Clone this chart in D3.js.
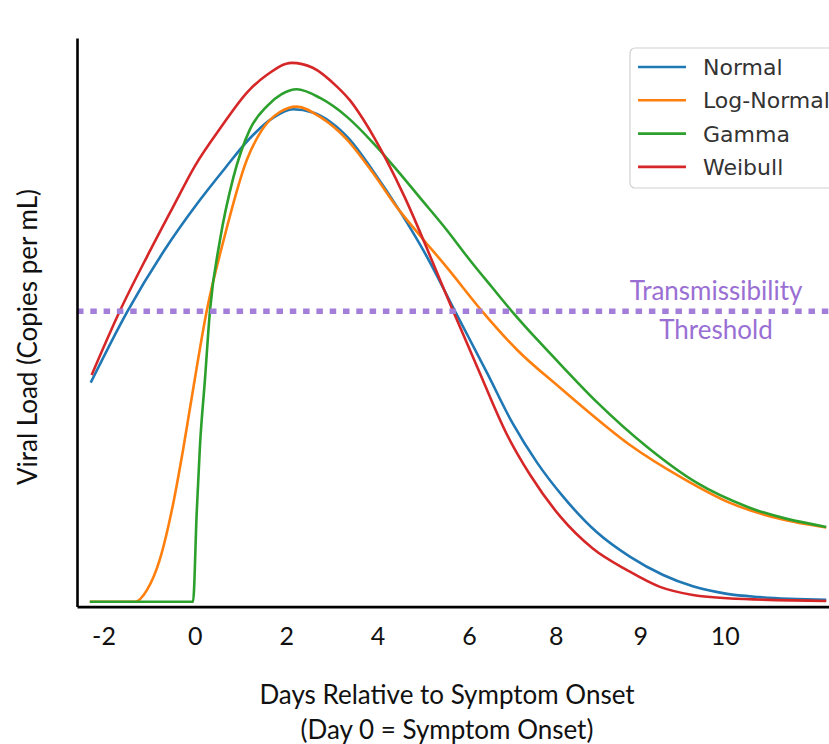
<!DOCTYPE html>
<html>
<head>
<meta charset="utf-8">
<script src="https://cdn.jsdelivr.net/npm/d3@7"></script>
<style>
  body { margin: 0; background: #fff; }
  svg { display: block; }
</style>
</head>
<body>
<svg width="829" height="744"></svg>
<script>
// Data (days relative to onset, relative viral load 0-100)

const seriesNames = ['Normal', 'Log-Normal', 'Gamma', 'Weibull']
const seriesColors = ['#1f77b4', '#ff7f0e', '#2ca02c', '#d62728']

const normalPts = [
  [-2.28, 40.6], [-1.47, 53.9], [-0.66, 65.2], [0.11, 74.4], [0.66, 80.3],
  [1.20, 85.8], [1.71, 89.6], [2.15, 91.2], [2.58, 90.6], [2.96, 88.9],
  [3.39, 85.6], [3.90, 79.8], [4.49, 72.3], [5.08, 63.9], [5.69, 53.9],
  [6.39, 42.5], [6.96, 33.0], [7.49, 25.8], [8.06, 19.5], [8.80, 12.9],
  [9.52, 8.4], [10.25, 5.0], [10.90, 2.9], [11.65, 1.5], [12.37, 0.9], [13.82, 0.4]
]
const logNormalPts = [
  [-2.30, 0.05], [-1.31, 0.05], [-1.05, 2.2], [-0.77, 7.8], [-0.48, 18.0],
  [-0.26, 28.1], [-0.04, 39.3], [0.26, 53.9], [0.63, 67.0], [1.14, 81.9],
  [1.47, 87.4], [1.86, 90.7], [2.23, 91.7], [2.74, 89.8], [3.33, 85.6],
  [3.90, 79.4], [4.42, 73.1], [4.93, 67.8], [5.52, 61.9], [6.28, 53.9],
  [7.05, 46.7], [8.00, 39.6], [8.50, 36.0], [9.50, 29.2], [10.70, 22.8],
  [11.70, 18.4], [12.80, 15.4], [13.82, 13.8]
]
const gammaPts = [
  [-2.30, 0.05], [-0.04, 0.05], [0.04, 16.5], [0.11, 28.7], [0.22, 41.1],
  [0.33, 53.9], [0.55, 67.0], [0.84, 78.5], [1.20, 87.4], [1.58, 91.8],
  [1.90, 94.0], [2.23, 94.9], [2.74, 93.3], [3.33, 89.8], [3.90, 85.0],
  [4.42, 80.0], [4.93, 74.8], [5.50, 69.0], [6.00, 63.5], [6.50, 58.3],
  [7.00, 53.2], [7.50, 48.5], [8.00, 44.0], [8.80, 37.0], [9.90, 28.7],
  [11.00, 22.0], [12.10, 17.6], [13.82, 13.9]
]
const weibullPts = [
  [-2.26, 42.0], [-1.64, 53.9], [-1.05, 63.9], [-0.48, 73.1], [0.00, 80.7],
  [0.59, 88.1], [1.14, 94.3], [1.58, 97.6], [2.12, 99.8], [2.58, 98.9],
  [3.11, 95.4], [3.40, 92.8], [3.68, 89.4], [3.95, 85.6], [4.20, 81.7],
  [4.60, 74.8], [5.21, 62.8], [5.65, 53.9], [6.18, 43.5], [6.83, 31.0],
  [7.34, 23.5], [8.00, 15.8], [8.71, 9.9], [9.46, 5.9], [10.18, 2.8],
  [10.90, 1.3], [11.65, 0.7], [13.82, 0.2]
]
const seriesPts = [normalPts, logNormalPts, gammaPts, weibullPts]

const threshold = 53.8

// tick labels sit where the original figure put them
const tickPositions = [-2, 0, 2, 4, 6, 7.9, 9.75, 11.6]
const tickLabels = ['-2', '0', '2', '4', '6', '8', '9', '10']

// Layout

const svg = d3.select('svg')
const calibri = 'Lato, "Open Sans", sans-serif'

const x = d3.scaleLinear()
    .domain([-2.58, 13.88])
    .range([77, 829])

const y = d3.scaleLinear()
    .domain([-0.85, 104.4])
    .range([606.6, 38])

const line = d3.line()
    .x(d => x(d[0]))
    .y(d => y(d[1]))
    .curve(d3.curveMonotoneX)

// Curves

svg.append('g')
    .attr('class', 'curves')
  .selectAll('path')
  .data(seriesPts)
  .join('path')
    .attr('d', line)
    .attr('fill', 'none')
    .attr('stroke', (d, i) => seriesColors[i])
    .attr('stroke-width', 2.6)
    .attr('stroke-linejoin', 'round')

// Threshold

svg.append('line')
    .attr('x1', x(-2.58))
    .attr('x2', x(13.88))
    .attr('y1', y(threshold))
    .attr('y2', y(threshold))
    .attr('stroke', '#a47fd9')
    .attr('stroke-width', 5.5)
    .attr('stroke-dasharray', '6.5 6.8')

const thrText = svg.append('g')
    .attr('font-family', calibri)
    .attr('font-size', 26)
    .attr('fill', '#9a6fd4')
    .attr('text-anchor', 'middle')

thrText.append('text')
    .attr('x', 716)
    .attr('y', y(threshold) - 11)
    .text('Transmissibility')

thrText.append('text')
    .attr('x', 716)
    .attr('y', y(threshold) + 28)
    .text('Threshold')

// Axes

const xAxis = d3.axisBottom(x)
    .tickValues(tickPositions)
    .tickFormat((d, i) => tickLabels[i])
    .tickSize(0)
    .tickPadding(21)

const gx = svg.append('g')
    .attr('transform', `translate(0,${y.range()[0]})`)
    .call(xAxis)

gx.select('.domain')
    .attr('stroke', '#000')
    .attr('stroke-width', 2.6)
gx.selectAll('text')
    .attr('font-family', calibri)
    .attr('font-size', 25)
    .attr('fill', '#111')

const yAxis = d3.axisLeft(y)
    .tickValues([])
    .tickSize(0)

const gy = svg.append('g')
    .attr('transform', `translate(${x.range()[0]},0)`)
    .call(yAxis)

gy.select('.domain')
    .attr('stroke', '#000')
    .attr('stroke-width', 2.6)

svg.append('text')
    .attr('x', 447)
    .attr('y', 704)
    .attr('text-anchor', 'middle')
    .attr('font-family', calibri)
    .attr('font-size', 26)
    .attr('fill', '#111')
    .text('Days Relative to Symptom Onset')

svg.append('text')
    .attr('x', 447)
    .attr('y', 739)
    .attr('text-anchor', 'middle')
    .attr('font-family', calibri)
    .attr('font-size', 26)
    .attr('fill', '#111')
    .text('(Day 0 = Symptom Onset)')

svg.append('text')
    .attr('transform', 'translate(37,337) rotate(-90)')
    .attr('text-anchor', 'middle')
    .attr('font-family', calibri)
    .attr('font-size', 26)
    .attr('fill', '#111')
    .text('Viral Load (Copies per mL)')

// Legend

const legend = svg.append('g')
    .attr('transform', 'translate(630,48)')

legend.append('rect')
    .attr('width', 230)
    .attr('height', 140)
    .attr('rx', 5)
    .attr('fill', '#fff')
    .attr('fill-opacity', 0.8)
    .attr('stroke', '#d0d0d0')
    .attr('stroke-width', 1.2)

const items = legend.selectAll('g.item')
  .data(seriesNames)
  .join('g')
    .attr('class', 'item')
    .attr('transform', (d, i) => `translate(0,${19 + i * 33.3})`)

items.append('line')
    .attr('x1', 8)
    .attr('x2', 56)
    .attr('stroke', (d, i) => seriesColors[i])
    .attr('stroke-width', 2.6)

items.append('text')
    .attr('x', 73)
    .attr('dy', '0.36em')
    .attr('font-family', '"DejaVu Sans", sans-serif')
    .attr('font-size', 22)
    .attr('fill', '#333')
    .text(d => d)
</script>
</body>
</html>
